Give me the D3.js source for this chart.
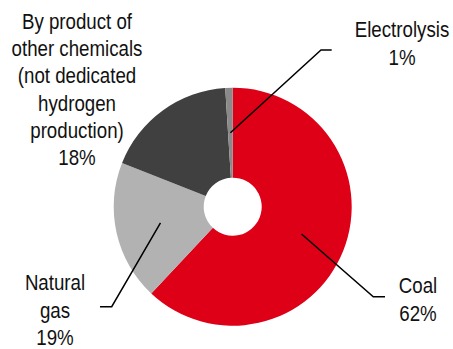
<!DOCTYPE html>
<html>
<head>
<meta charset="utf-8">
<script src="https://cdn.jsdelivr.net/npm/d3@7"></script>
<style>
  html, body { margin: 0; padding: 0; background: #fff; }
  svg { display: block; }
  text { font-family: "Liberation Sans", Arial, sans-serif; fill: #111; }
</style>
</head>
<body>
<div id="chart"></div>
<script>
// Hydrogen production by source (share, %)
const categories = ["Coal", "Natural gas", "By product of other chemicals (not dedicated hydrogen production)", "Electrolysis"];
const shares = [62, 19, 18, 1];
const colors = ["#DD0016", "#B2B2B2", "#404040", "#8A8A8A"];
const labelLines = [
  ["Coal", "62%"],
  ["Natural", "gas", "19%"],
  ["By product of", "other chemicals", "(not dedicated", "hydrogen", "production)", "18%"],
  ["Electrolysis", "1%"]
];

const W = 453, H = 349;
const cx = 232.7, cy = 206.7, rOuter = 119, rInner = 29;
const fontSize = 22, squeeze = 0.85;

const svg = d3.select("#chart").append("svg")
  .attr("width", W).attr("height", H);

const data = categories.map((c, i) => ({ name: c, value: shares[i], color: colors[i], lines: labelLines[i] }));

const pie = d3.pie().sort(null).value(d => d.value).startAngle(0).endAngle(2 * Math.PI);
const arc = d3.arc().innerRadius(rInner).outerRadius(rOuter);
const arcs = pie(data);

const g = svg.append("g").attr("transform", `translate(${cx},${cy})`);

g.selectAll("path.slice")
  .data(arcs)
  .join("path")
  .attr("class", "slice")
  .attr("d", arc)
  .attr("fill", d => d.data.color);

// Callout layout per slice: elbow point, horizontal end, label anchor (x, first baseline), line step
const callouts = {
  "Coal":        { elbow: [373.3, 296.7], end: [385, 296.7], label: [418, 293], step: 28 },
  "Natural gas": { elbow: [111.7, 306.7], end: [100, 306.7], label: [55, 290], step: 27.5 },
  "Electrolysis":{ elbow: [321, 50],      end: [331.7, 50],  label: [402, 36.5], step: 28 }
};
const plainLabel = { label: [77, 29], step: 27.2 };

arcs.forEach(a => {
  const c = callouts[a.data.name];
  let spec = plainLabel;
  if (c) {
    const [px, py] = arc.centroid(a);
    svg.append("polyline")
      .attr("points", [[cx + px, cy + py], c.elbow, c.end].map(p => p.join(",")).join(" "))
      .attr("fill", "none")
      .attr("stroke", "#000")
      .attr("stroke-width", 1.5);
    spec = c;
  }
  const [lx, ly] = spec.label;
  a.data.lines.forEach((line, i) => {
    svg.append("text")
      .attr("transform", `translate(${lx},${ly + i * spec.step}) scale(${squeeze},1)`)
      .attr("text-anchor", "middle")
      .attr("font-size", fontSize)
      .text(line);
  });
});
</script>
</body>
</html>
